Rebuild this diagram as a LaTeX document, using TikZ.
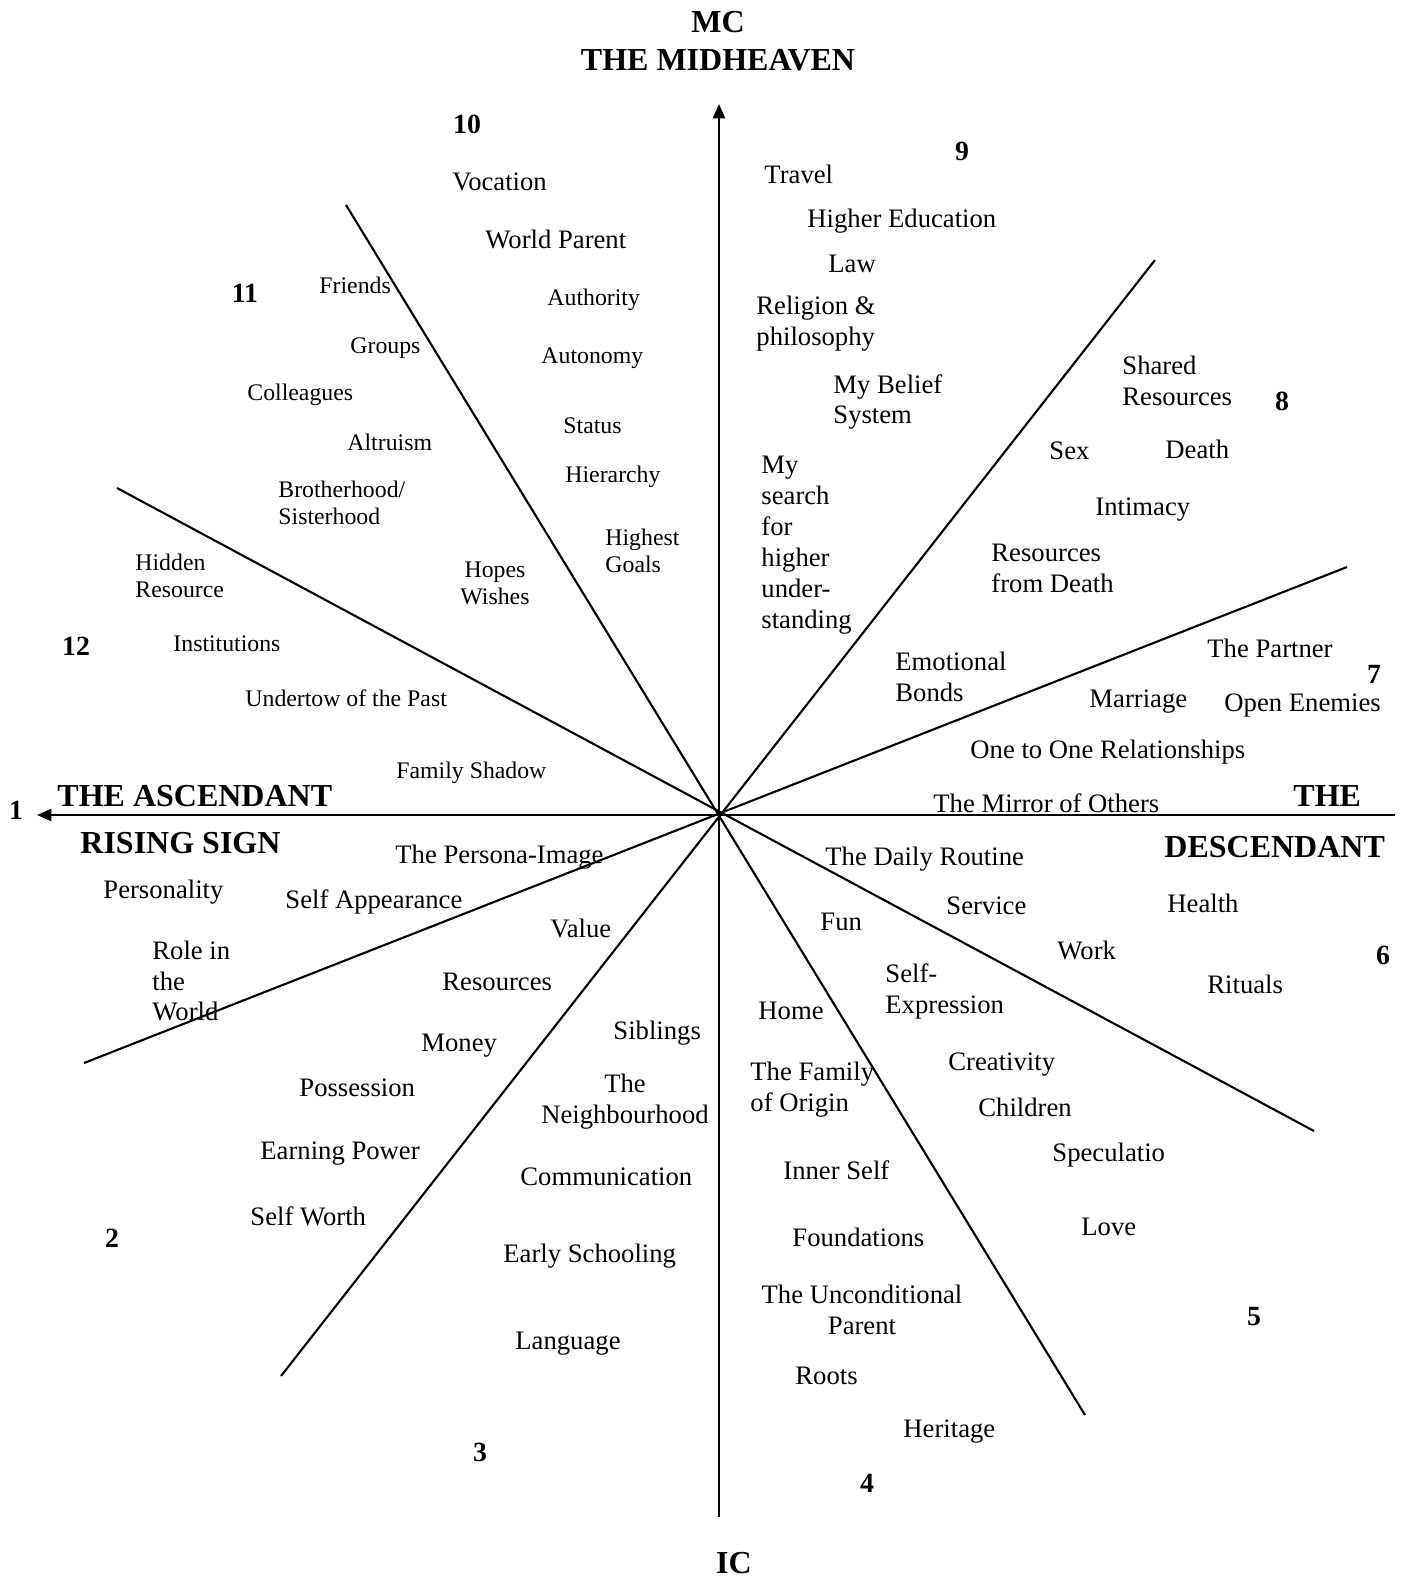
\documentclass[tikz,border=0pt]{standalone}
\usepackage{fontspec}
\setmainfont{Liberation Serif}
\usetikzlibrary{arrows.meta}

\tikzset{
  lbl/.style={anchor=base west, inner sep=0pt, yshift=-4.05pt, font=\fontsize{12}{13.9}\selectfont},
  sml/.style={anchor=base west, inner sep=0pt, yshift=-3.6pt, font=\fontsize{10.7}{12.2}\selectfont},
  ml/.style={anchor=west, inner sep=0pt, align=left, font=\fontsize{12}{13.9}\selectfont},
  mls/.style={anchor=west, inner sep=0pt, align=left, font=\fontsize{10.7}{12.2}\selectfont},
  hd/.style={inner sep=0pt, font=\bfseries\fontsize{14.4}{17}\selectfont},
  num/.style={inner sep=0pt, font=\bfseries\fontsize{12.5}{15}\selectfont},
  cusp/.style={line width=0.95pt}
}

\begin{document}
\begin{tikzpicture}[x=0.45pt, y=-0.45pt]
            \useasboundingbox (0,0) rectangle (1405,1581);

            % centre and cusp ends
            \coordinate (c) at (719,815);
            \coordinate (mc) at (719,104);
            \coordinate (ic) at (719,1517);
            \coordinate (asc) at (37,815);
            \coordinate (dsc) at (1395,815);
            \coordinate (a1) at (346,205);
            \coordinate (a2) at (1085,1415);
            \coordinate (b1) at (117,488);
            \coordinate (b2) at (1314,1131);
            \coordinate (c1) at (84,1063);
            \coordinate (c2) at (1347,567);
            \coordinate (d1) at (281,1376);
            \coordinate (d2) at (1155,260);

            \draw[cusp, -{Triangle[length=6.5pt,width=5.5pt]}] (ic) -- (mc); % IC-MC
            \draw[cusp, -{Triangle[length=6.5pt,width=5.5pt]}] (dsc) -- (asc); % DSC-ASC
            \draw[cusp] (a1) -- (a2); % 10/11 - 4/5
            \draw[cusp] (b1) -- (b2); % 11/12 - 5/6
            \draw[cusp] (c1) -- (c2); % 12/1 - 6/7
            \draw[cusp] (d1) -- (d2); % 2/3 - 8/9

            % angles
            \node[hd, align=center] (midheaven) at (718,41) {MC\\THE MIDHEAVEN};
            \node[hd] (imumcoeli) at (734,1563) {IC};
            \node[hd, anchor=west] (ascendant) at (57,796) {THE ASCENDANT};
            \node[hd, anchor=west] (rising) at (80,843) {RISING SIGN};
            \node[hd, anchor=west] (the) at (1293,796) {THE};
            \node[hd, anchor=west] (descendant) at (1164,847) {DESCENDANT};

            % house numbers
            \node[num] (h1) at (16,810) {1};
            \node[num] (h2) at (112,1238) {2};
            \node[num] (h3) at (480,1452) {3};
            \node[num] (h4) at (867,1483) {4};
            \node[num] (h5) at (1254,1317) {5};
            \node[num] (h6) at (1383,955) {6};
            \node[num] (h7) at (1374,674) {7};
            \node[num] (h8) at (1282,401) {8};
            \node[num] (h9) at (962,151) {9};
            \node[num] (h10) at (467,124) {10};
            \node[num] (h11) at (245,293) {11};
            \node[num] (h12) at (76,646) {12};

            % house 10
            \node[lbl] (vocation) at (452,181) {Vocation};
            \node[lbl] (worldparent) at (485,239) {World Parent};
            \node[sml] (authority) at (547,297) {Authority};
            \node[sml] (autonomy) at (541,355) {Autonomy};
            \node[sml] (status) at (563,425) {Status};
            \node[sml] (hierarchy) at (565,474) {Hierarchy};
            \node[mls] (goals) at (605,551) {Highest\\Goals};

            % house 11
            \node[sml] (friends) at (319,285) {Friends};
            \node[sml] (groups) at (350,345) {Groups};
            \node[sml] (colleagues) at (247,392) {Colleagues};
            \node[sml] (altruism) at (347,442) {Altruism};
            \node[mls] (brotherhood) at (278,503) {Brotherhood/\\Sisterhood};
            \node[mls, anchor=center, align=center] (hopes) at (495,583) {Hopes\\Wishes};

            % house 12
            \node[mls] (hidden) at (135,576) {Hidden\\Resource};
            \node[sml] (institutions) at (173,643) {Institutions};
            \node[sml] (undertow) at (245,698) {Undertow of the Past};
            \node[sml] (shadow) at (396,770) {Family Shadow};

            % house 1
            \node[lbl] (persona) at (395,854) {The Persona-Image};
            \node[lbl] (personality) at (103,889) {Personality};
            \node[lbl] (appearance) at (285,899) {Self Appearance};
            \node[ml] (role) at (152,981) {Role in\\the\\World};

            % house 2
            \node[lbl] (value) at (550,928) {Value};
            \node[lbl] (resources) at (442,981) {Resources};
            \node[lbl] (money) at (421,1042) {Money};
            \node[lbl] (possession) at (299,1087) {Possession};
            \node[lbl] (earning) at (260,1150) {Earning Power};
            \node[lbl] (selfworth) at (250,1216) {Self Worth};

            % house 3
            \node[lbl] (siblings) at (613,1030) {Siblings};
            \node[ml, anchor=center, align=center] (neighbourhood) at (625,1102) {The\\Neighbourhood};
            \node[lbl] (communication) at (520,1176) {Communication};
            \node[lbl] (schooling) at (503,1253) {Early Schooling};
            \node[lbl] (language) at (515,1340) {Language};

            % house 4
            \node[lbl] (home) at (758,1010) {Home};
            \node[ml] (family) at (750,1090) {The Family\\of Origin};
            \node[lbl] (innerself) at (783,1170) {Inner Self};
            \node[lbl] (foundations) at (792,1237) {Foundations};
            \node[ml, anchor=center, align=center] (unconditional) at (862,1310) {The Unconditional\\Parent};
            \node[lbl] (roots) at (795,1375) {Roots};
            \node[lbl] (heritage) at (903,1428) {Heritage};

            % house 5
            \node[lbl] (fun) at (820,921) {Fun};
            \node[ml] (expression) at (885,991) {Self-\\Expression};
            \node[lbl] (creativity) at (948,1061) {Creativity};
            \node[lbl] (children) at (978,1107) {Children};
            \node[lbl] (speculation) at (1052,1152) {Speculatio};
            \node[lbl] (love) at (1081,1226) {Love};

            % house 6
            \node[lbl] (routine) at (825,856) {The Daily Routine};
            \node[lbl] (service) at (946,905) {Service};
            \node[lbl] (work) at (1057,950) {Work};
            \node[lbl] (health) at (1167,903) {Health};
            \node[lbl] (rituals) at (1207,984) {Rituals};

            % house 7
            \node[lbl] (mirror) at (933,803) {The Mirror of Others};
            \node[lbl] (onetoone) at (970,749) {One to One Relationships};
            \node[lbl] (marriage) at (1089,698) {Marriage};
            \node[lbl] (enemies) at (1224,702) {Open Enemies};
            \node[lbl] (partner) at (1207,648) {The Partner};
            \node[ml] (bonds) at (895,677) {Emotional\\Bonds};

            % house 8
            \node[ml] (fromdeath) at (991,568) {Resources\\from Death};
            \node[lbl] (intimacy) at (1095,506) {Intimacy};
            \node[lbl] (sex) at (1049,450) {Sex};
            \node[lbl] (death) at (1165,449) {Death};
            \node[ml] (shared) at (1122,381) {Shared\\Resources};

            % house 9
            \node[lbl] (travel) at (764,174) {Travel};
            \node[lbl] (education) at (807,218) {Higher Education};
            \node[lbl] (law) at (828,263) {Law};
            \node[ml] (religion) at (756,324) {Religion \&\\philosophy};
            \node[ml] (belief) at (833,402) {My Belief\\System};
            \node[ml] (search) at (761,545) {My\\search\\for\\higher\\under-\\standing};
        \end{tikzpicture}
\end{document}
